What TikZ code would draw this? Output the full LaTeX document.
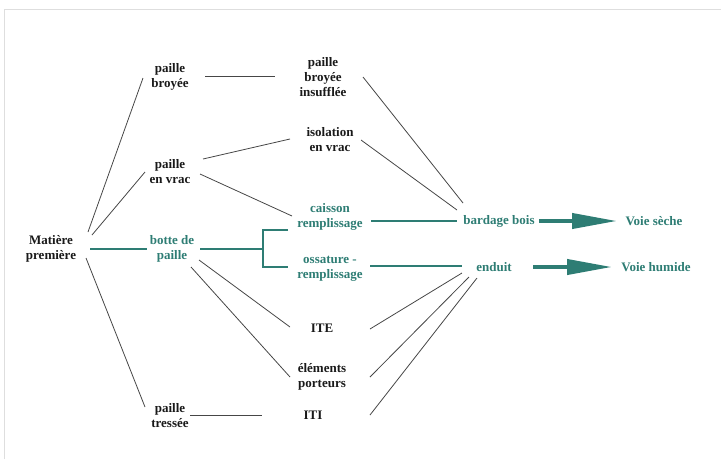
\documentclass[tikz,border=0pt]{standalone}
\usepackage{fontspec}
\setmainfont{Liberation Serif}
\usetikzlibrary{arrows.meta}
\definecolor{teal1}{RGB}{46,125,116}
\definecolor{gline}{RGB}{70,70,70}
\definecolor{frame}{RGB}{222,222,222}
\tikzset{
  lbl/.style={align=center, inner sep=0pt, font=\fontsize{13}{15}\selectfont\bfseries, text=black!90},
  tlbl/.style={lbl, text=teal1},
  gl/.style={draw=gline, line width=0.8pt},
  tl/.style={draw=teal1, line width=1.4pt},
  bigarrow/.style={draw=teal1, line width=4pt, -{Triangle[length=45pt,width=15pt]}}
}
\begin{document}
\begin{tikzpicture}[x=1pt,y=-1pt]
\useasboundingbox (0,0) rectangle (721,459);
\draw[frame, line width=1.5pt] (4.5,459) -- (4.5,9.5) -- (721,9.5);

\node[lbl]  (mp)  at (51,249)  {Matière\\première};
\node[lbl]  (pb)  at (170,77)  {paille\\broyée};
\node[lbl]  (pv)  at (170,172) {paille\\en vrac};
\node[tlbl] (bp)  at (172,249) {botte de\\paille};
\node[lbl]  (pt)  at (170,416) {paille\\tressée};
\node[lbl]  (pbi) at (323,77)  {paille\\broyée\\insufflée};
\node[lbl]  (iv)  at (330,140) {isolation\\en vrac};
\node[tlbl] (cr)  at (330,217) {caisson\\remplissage};
\node[tlbl] (or)  at (330,269) {ossature -\\remplissage};
\node[lbl]  (ite) at (322,328) {ITE};
\node[lbl]  (ep)  at (322,377) {éléments\\porteurs};
\node[lbl]  (iti) at (313,415) {ITI};
\node[tlbl] (bb)  at (499,221) {bardage bois};
\node[tlbl] (en)  at (494,267) {enduit};
\node[tlbl] (vs)  at (654,221) {Voie sèche};
\node[tlbl] (vh)  at (656,267) {Voie humide};

% left fan
\draw[gl] ([shift={(37,-17)}]mp.center) -- ([shift={(-27,1)}]pb.center);
\draw[gl] ([shift={(41,-14)}]mp.center) -- ([shift={(-25,0)}]pv.center);
\draw[tl] ([shift={(39,0)}]mp.center) -- ([shift={(-25,0)}]bp.center);
\draw[gl] ([shift={(35,9)}]mp.center) -- ([shift={(-25,-9)}]pt.center);

% second column
\draw[gl] ([shift={(35,-1)}]pb.center) -- ([shift={(-48,-1)}]pbi.center);
\draw[gl] ([shift={(33,-13)}]pv.center) -- ([shift={(-40,-1)}]iv.center);
\draw[gl] ([shift={(30,2)}]pv.center) -- ([shift={(-38,-1)}]cr.center);
\coordinate (br) at ([shift={(91,0)}]bp.center);
\draw[tl] ([shift={(28,0)}]bp.center) -- (br);
\draw[tl] ([shift={(-42,13)}]cr.center) -| (br) |- ([shift={(-42,-2)}]or.center);
\draw[gl] ([shift={(27,11)}]bp.center) -- ([shift={(-32,-1)}]ite.center);
\draw[gl] ([shift={(19,18)}]bp.center) -- ([shift={(-32,0)}]ep.center);
\draw[gl] ([shift={(20,-1)}]pt.center) -- ([shift={(-51,0)}]iti.center);

% third column
\draw[gl] ([shift={(40,0)}]pbi.center) -- ([shift={(-36,-18)}]bb.center);
\draw[gl] ([shift={(31,0)}]iv.center) -- ([shift={(-42,-11)}]bb.center);
\draw[tl] ([shift={(41,4)}]cr.center) -- ([shift={(-42,0)}]bb.center);
\draw[tl] ([shift={(40,-3)}]or.center) -- ([shift={(-32,-1)}]en.center);
\draw[gl] ([shift={(48,1)}]ite.center) -- ([shift={(-32,6)}]en.center);
\draw[gl] ([shift={(48,0)}]ep.center) -- ([shift={(-25,10)}]en.center);
\draw[gl] ([shift={(57,0)}]iti.center) -- ([shift={(-17,11)}]en.center);

% arrows
\draw[bigarrow] ([shift={(40,0)}]bb.center) -- ([shift={(-37,0)}]vs.center);
\draw[bigarrow] ([shift={(39,0)}]en.center) -- ([shift={(-44,0)}]vh.center);
\end{tikzpicture}
\end{document}
